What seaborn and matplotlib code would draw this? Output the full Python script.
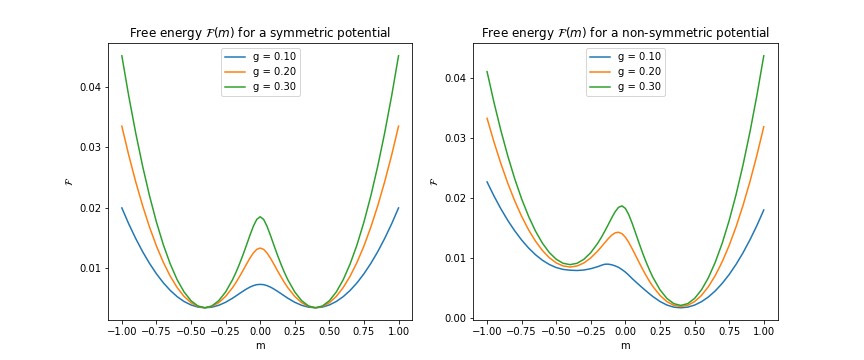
import matplotlib
matplotlib.use("Agg")
import matplotlib.pyplot as plt
import seaborn as sns

# magnetisation grid (finer around the central barrier)
m = [-1.00, -0.95, -0.90, -0.85, -0.80, -0.75, -0.70, -0.65, -0.60, -0.55,
     -0.50, -0.45, -0.40, -0.35, -0.30, -0.25, -0.20,
     -0.175, -0.15, -0.125, -0.10, -0.075, -0.05, -0.025, 0.00,
     0.025, 0.05, 0.075, 0.10, 0.125, 0.15, 0.175,
     0.20, 0.25, 0.30, 0.35, 0.40, 0.45, 0.50, 0.55, 0.60,
     0.65, 0.70, 0.75, 0.80, 0.85, 0.90, 0.95, 1.00]

g_labels = ['g = 0.10', 'g = 0.20', 'g = 0.30']

# symmetric potential
sym_g010 = [0.01999, 0.01735, 0.01495, 0.01277, 0.01083, 0.00911, 0.00762, 0.00636, 0.00533, 0.00453,
            0.00396, 0.00361, 0.00349, 0.00359, 0.00390, 0.00440, 0.00507,
            0.00545, 0.00584, 0.00622, 0.00658, 0.00690, 0.00715, 0.00731, 0.00736,
            0.00731, 0.00715, 0.00690, 0.00658, 0.00622, 0.00584, 0.00545,
            0.00507, 0.00440, 0.00390, 0.00359, 0.00349, 0.00361, 0.00396, 0.00453, 0.00533,
            0.00636, 0.00762, 0.00911, 0.01083, 0.01277, 0.01495, 0.01735, 0.01999]
sym_g020 = [0.03349, 0.02870, 0.02433, 0.02037, 0.01683, 0.01370, 0.01100, 0.00871, 0.00683, 0.00537,
            0.00433, 0.00371, 0.00350, 0.00371, 0.00433, 0.00537, 0.00681,
            0.00767, 0.00862, 0.00962, 0.01066, 0.01166, 0.01253, 0.01314, 0.01336,
            0.01314, 0.01253, 0.01166, 0.01066, 0.00962, 0.00862, 0.00767,
            0.00681, 0.00537, 0.00433, 0.00371, 0.00350, 0.00371, 0.00433, 0.00537, 0.00683,
            0.00871, 0.01100, 0.01370, 0.01683, 0.02037, 0.02433, 0.02870, 0.03349]
sym_g030 = [0.04512, 0.03847, 0.03240, 0.02691, 0.02200, 0.01766, 0.01390, 0.01073, 0.00812, 0.00610,
            0.00466, 0.00379, 0.00350, 0.00379, 0.00466, 0.00610, 0.00812,
            0.00934, 0.01071, 0.01219, 0.01378, 0.01541, 0.01693, 0.01809, 0.01853,
            0.01809, 0.01693, 0.01541, 0.01378, 0.01219, 0.01071, 0.00934,
            0.00812, 0.00610, 0.00466, 0.00379, 0.00350, 0.00379, 0.00466, 0.00610, 0.00812,
            0.01073, 0.01390, 0.01766, 0.02200, 0.02691, 0.03240, 0.03847, 0.04512]

# non-symmetric potential
asym_g010 = [0.02269, 0.02034, 0.01820, 0.01626, 0.01453, 0.01300, 0.01167, 0.01055, 0.00963, 0.00892,
             0.00841, 0.00810, 0.00797, 0.00792, 0.00800, 0.00822, 0.00856,
             0.00878, 0.00896, 0.00898, 0.00888, 0.00870, 0.00845, 0.00808, 0.00765,
             0.00712, 0.00655, 0.00602, 0.00550, 0.00499, 0.00450, 0.00401,
             0.00355, 0.00275, 0.00216, 0.00181, 0.00170, 0.00181, 0.00215, 0.00272, 0.00351,
             0.00453, 0.00578, 0.00725, 0.00895, 0.01087, 0.01303, 0.01540, 0.01801]
asym_g020 = [0.03330, 0.02934, 0.02573, 0.02245, 0.01952, 0.01694, 0.01470, 0.01281, 0.01126, 0.01005,
             0.00919, 0.00867, 0.00850, 0.00867, 0.00918, 0.01003, 0.01118,
             0.01184, 0.01253, 0.01320, 0.01379, 0.01419, 0.01430, 0.01406, 0.01346,
             0.01258, 0.01150, 0.01036, 0.00921, 0.00810, 0.00705, 0.00608,
             0.00521, 0.00377, 0.00273, 0.00211, 0.00190, 0.00211, 0.00273, 0.00377, 0.00523,
             0.00711, 0.00940, 0.01210, 0.01523, 0.01877, 0.02273, 0.02710, 0.03189]
asym_g030 = [0.04108, 0.03594, 0.03125, 0.02700, 0.02320, 0.01985, 0.01695, 0.01449, 0.01248, 0.01091,
             0.00979, 0.00912, 0.00890, 0.00912, 0.00979, 0.01091, 0.01247,
             0.01340, 0.01444, 0.01553, 0.01666, 0.01769, 0.01845, 0.01870, 0.01827,
             0.01719, 0.01571, 0.01406, 0.01239, 0.01079, 0.00931, 0.00794,
             0.00672, 0.00470, 0.00326, 0.00239, 0.00210, 0.00239, 0.00326, 0.00470, 0.00672,
             0.00933, 0.01250, 0.01626, 0.02060, 0.02551, 0.03100, 0.03707, 0.04372]

fig, axes = plt.subplots(1, 2, figsize=(12, 5))

panels = [
    (axes[0], [sym_g010, sym_g020, sym_g030], 'symmetric'),
    (axes[1], [asym_g010, asym_g020, asym_g030], 'non-symmetric'),
]

for ax, series, kind in panels:
    for values, label in zip(series, g_labels):
        sns.lineplot(x=m, y=values, ax=ax, label=label)
    ax.set_title(r'Free energy $\mathcal{F}(m)$ for a ' + kind + ' potential')
    ax.set_xlabel('m')
    ax.set_ylabel(r'$\mathcal{F}$')
    ax.legend(loc='upper center')

plt.savefig('out.png', dpi=72)
